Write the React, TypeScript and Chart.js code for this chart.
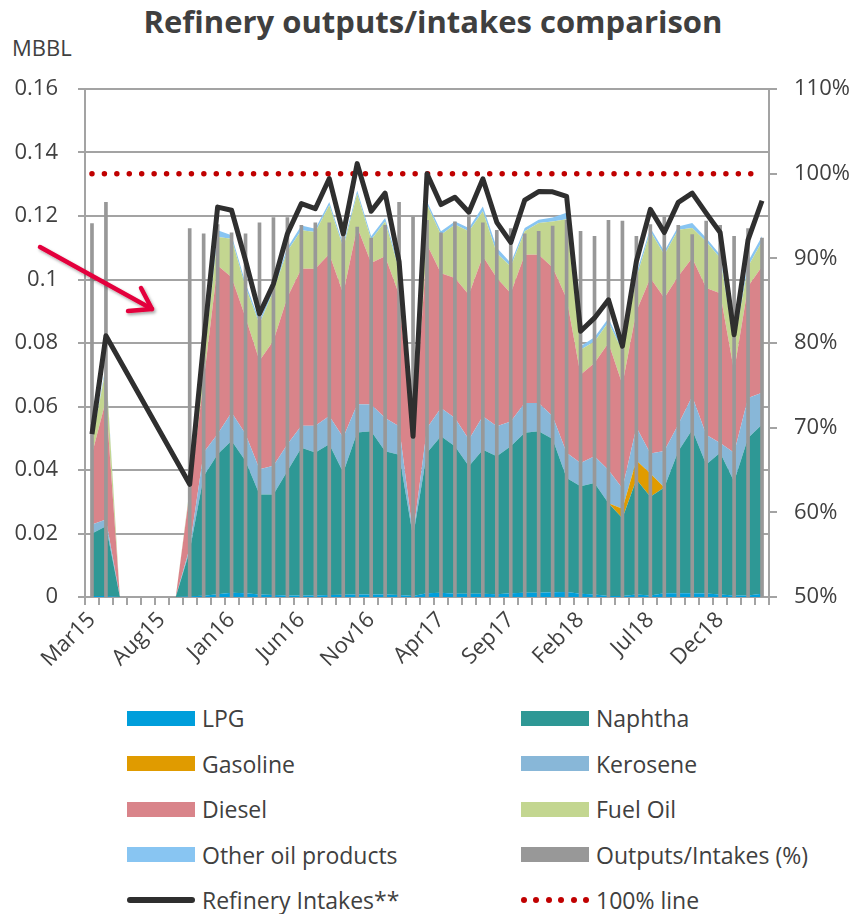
import React, { useEffect, useRef } from 'react';
import { Chart, registerables } from 'chart.js';

Chart.register(...registerables);

const months = [
  'Mar15','Apr15','May15','Jun15','Jul15','Aug15','Sep15','Oct15','Nov15','Dec15',
  'Jan16','Feb16','Mar16','Apr16','May16','Jun16','Jul16','Aug16','Sep16','Oct16','Nov16','Dec16',
  'Jan17','Feb17','Mar17','Apr17','May17','Jun17','Jul17','Aug17','Sep17','Oct17','Nov17','Dec17',
  'Jan18','Feb18','Mar18','Apr18','May18','Jun18','Jul18','Aug18','Sep18','Oct18','Nov18','Dec18',
  'Jan19','Feb19','Mar19',
];

const lpg = [0.0003,0.0003,0,0,0,0,0,0.0002,0.0004,0.0009,0.0013,0.0012,0.0008,0.0006,0.0005,0.0005,0.0005,0.0006,0.0007,0.0008,0.0008,0.0008,0.0006,0.0003,0.0012,0.0013,0.001,0.001,0.001,0.0009,0.0012,0.0013,0.0013,0.0015,0.0016,0.001,0.0008,0.0003,0.0003,0.0008,0.0005,0.0012,0.0012,0.0012,0.0011,0.0008,0.0005,0.0005,0.001];
const naphtha = [0.0197,0.022,0,0,0,0,0,0.0143,0.0376,0.0441,0.0479,0.0416,0.0315,0.0317,0.0392,0.0465,0.045,0.0475,0.0385,0.051,0.0514,0.0451,0.0442,0.0187,0.0442,0.0493,0.0465,0.0402,0.0454,0.0434,0.0463,0.0504,0.0509,0.0483,0.0359,0.0339,0.0351,0.0292,0.0245,0.0362,0.0311,0.0333,0.0447,0.0515,0.0406,0.0446,0.0359,0.0496,0.0533];
const gasoline = [0,0,0,0,0,0,0,0,0,0,0,0,0,0,0,0,0,0,0,0,0,0,0,0,0,0,0,0,0,0,0,0,0,0,0,0,0,0,0.003,0.006,0.0073,0,0,0,0,0,0,0,0];
const kerosene = [0.0028,0.0021,0,0,0,0,0,0.001,0.0075,0.0063,0.0089,0.0085,0.0079,0.009,0.0084,0.0069,0.0084,0.0089,0.011,0.0089,0.0084,0.0105,0.009,0.0005,0.0078,0.0089,0.0089,0.0084,0.0105,0.0095,0.0078,0.0094,0.0089,0.0071,0.0079,0.0073,0.0084,0.0105,0.0064,0.0105,0.0063,0.0115,0.0084,0.0105,0.0094,0.0031,0.009,0.0126,0.01];
const diesel = [0.0222,0.0376,0,0,0,0,0,0.0175,0.0225,0.0531,0.0426,0.0367,0.0342,0.0394,0.0463,0.0495,0.0495,0.051,0.0453,0.0558,0.0446,0.0509,0.0414,0.0275,0.0578,0.0425,0.0441,0.0456,0.0504,0.0467,0.0404,0.0467,0.0467,0.0469,0.0486,0.0278,0.0294,0.04,0.0327,0.0365,0.0553,0.0482,0.0467,0.0436,0.0462,0.0472,0.0257,0.0351,0.0398];
const fuelOil = [0.004,0.01,0,0,0,0,0,0.001,0.006,0.009,0.0121,0.0096,0.0116,0.0158,0.0146,0.0121,0.0116,0.0154,0.0145,0.0105,0.0073,0.011,0.0078,0.001,0.0126,0.0121,0.0168,0.02,0.0142,0.0078,0.0084,0.0074,0.01,0.0145,0.025,0.0079,0.0068,0.0065,0.0106,0.0105,0.0147,0.0136,0.0147,0.0094,0.0147,0.0111,0.0084,0.0063,0.0079];
const otherProducts = [0.0005,0.001,0,0,0,0,0,0.0002,0.0005,0.0021,0.0011,0.0012,0.001,0.0011,0.001,0.0015,0.001,0.001,0.001,0.001,0.0011,0.0011,0.001,0.0002,0.001,0.0011,0.001,0.001,0.0015,0.0017,0.0011,0.001,0.001,0.0012,0.002,0.0011,0.0013,0.0013,0.001,0.0015,0.001,0.0011,0.001,0.0016,0.0011,0.001,0.001,0.0016,0.0016];
const outputsIntakesPct = [94.1,96.6,null,null,null,null,null,93.5,92.9,94.0,93.0,92.9,94.2,94.8,94.8,93.9,94.2,94.2,94.0,93.7,92.4,93.9,96.6,94.9,94.5,93.0,94.3,95.1,94.2,93.3,93.5,92.9,93.2,93.8,94.5,93.2,92.6,94.5,94.4,92.6,94.0,94.9,93.9,92.8,94.4,93.9,92.6,93.5,92.4];
const refineryIntakes = [0.0513,0.0823,null,null,null,null,null,0.0355,0.08,0.1228,0.1218,0.106,0.0892,0.0986,0.1144,0.1239,0.1223,0.1318,0.1144,0.1365,0.1215,0.1272,0.1057,0.0506,0.1333,0.1236,0.1259,0.1212,0.1317,0.118,0.1117,0.125,0.1277,0.1276,0.1262,0.0837,0.0879,0.0936,0.079,0.1057,0.1221,0.1148,0.1243,0.1272,0.1209,0.1148,0.0826,0.1125,0.1248];
const HUNDRED_PCT = 100;

const yTicks = [0, 0.02, 0.04, 0.06, 0.08, 0.1, 0.12, 0.14, 0.16];
const y1Ticks = [50, 60, 70, 80, 90, 100, 110];

const areaSeries = [
  { name: 'LPG', data: lpg, color: '#009EDB' },
  { name: 'Naphtha', data: naphtha, color: '#2E9895' },
  { name: 'Gasoline', data: gasoline, color: '#E09B00' },
  { name: 'Kerosene', data: kerosene, color: '#88B7D8' },
  { name: 'Diesel', data: diesel, color: '#D9848A' },
  { name: 'Fuel Oil', data: fuelOil, color: '#C3D690' },
  { name: 'Other oil products', data: otherProducts, color: '#88C5F2' },
];
const BAR_NAME = 'Outputs/Intakes (%)';
const BAR_COLOR = '#989898';
const LINE_NAME = 'Refinery Intakes**';
const LINE_COLOR = '#2F2F2F';
const DOT_NAME = '100% line';
const DOT_COLOR = '#C00000';

const FONT = '"Open Sans", Lato, sans-serif';
const TEXT = '#404040';
const GRID = '#A3A3A3';

type LegendKind = 'area' | 'line' | 'dots';
const legendItems: { name: string; color: string; kind: LegendKind }[] = [
  ...areaSeries.map((s) => ({ name: s.name, color: s.color, kind: 'area' as LegendKind })),
  { name: BAR_NAME, color: BAR_COLOR, kind: 'area' },
  { name: LINE_NAME, color: LINE_COLOR, kind: 'line' },
  { name: DOT_NAME, color: DOT_COLOR, kind: 'dots' },
];

function Swatch({ color, kind }: { color: string; kind: LegendKind }) {
  if (kind === 'line') {
    return <div style={{ width: 68, height: 6, borderRadius: 3, background: color }} />;
  }
  if (kind === 'dots') {
    return (
      <div style={{ width: 68, height: 6, display: 'flex', justifyContent: 'space-between' }}>
        {[0, 1, 2, 3, 4, 5].map((k) => (
          <div key={k} style={{ width: 6, height: 6, borderRadius: 3, background: color }} />
        ))}
      </div>
    );
  }
  return <div style={{ width: 68, height: 15, background: color }} />;
}

export default function App() {
  const canvasRef = useRef<HTMLCanvasElement | null>(null);

  useEffect(() => {
    document.body.style.margin = '0';
    const canvas = canvasRef.current;
    if (!canvas) return;

    const tickFont = { family: FONT, size: 22 };

    const datasets: any[] = [
      ...areaSeries.map((s, i) => ({
        type: 'line',
        label: s.name,
        data: s.data,
        yAxisID: 'y',
        backgroundColor: s.color,
        borderColor: 'transparent',
        borderWidth: 0,
        pointRadius: 0,
        tension: 0,
        fill: i === 0 ? 'origin' : '-1',
        order: 5,
      })),
      {
        type: 'bar',
        label: BAR_NAME,
        data: outputsIntakesPct,
        yAxisID: 'y1',
        backgroundColor: BAR_COLOR,
        barThickness: 3,
        order: 2,
      },
      {
        type: 'line',
        label: LINE_NAME,
        data: refineryIntakes,
        yAxisID: 'y',
        stack: 'intakes',
        borderColor: LINE_COLOR,
        borderWidth: 5,
        borderJoinStyle: 'round',
        pointRadius: 0,
        tension: 0,
        fill: false,
        spanGaps: true,
        order: 0,
      },
      {
        type: 'line',
        label: DOT_NAME,
        data: months.map(() => HUNDRED_PCT),
        yAxisID: 'y1',
        borderColor: DOT_COLOR,
        borderWidth: 5.5,
        borderDash: [0, 12.43],
        borderCapStyle: 'round',
        pointRadius: 0,
        fill: false,
        order: 1,
      },
    ];

    const chart = new Chart(canvas, {
      type: 'line',
      data: { labels: months, datasets },
      options: {
        animation: false,
        responsive: false,
        maintainAspectRatio: false,
        layout: { padding: { top: 89, left: 0, right: 0, bottom: 0 } },
        plugins: { legend: { display: false }, title: { display: false }, tooltip: { enabled: false } },
        scales: {
          x: {
            type: 'category',
            offset: true,
            grid: { offset: true, drawOnChartArea: false, drawTicks: true, tickLength: 8, color: GRID, lineWidth: 2 },
            border: { color: GRID, width: 2 },
            ticks: {
              autoSkip: false,
              maxRotation: 45,
              minRotation: 45,
              padding: 2,
              color: TEXT,
              font: tickFont,
              callback: (_v: any, idx: number) => (idx % 5 === 0 ? months[idx] : ''),
            },
            afterFit: (s: any) => { s.height = 93; },
          },
          y: {
            type: 'linear',
            position: 'left',
            stacked: true,
            min: yTicks[0],
            max: yTicks[yTicks.length - 1],
            afterBuildTicks: (s: any) => { s.ticks = yTicks.map((v) => ({ value: v })); },
            ticks: {
              color: TEXT,
              font: tickFont,
              padding: 20,
              callback: (v: any) => String(+Number(v).toFixed(2)),
            },
            grid: { color: GRID, lineWidth: 2, tickLength: 7 },
            border: { color: GRID, width: 2 },
            afterFit: (s: any) => { s.width = 85; },
          },
          y1: {
            type: 'linear',
            position: 'right',
            min: y1Ticks[0],
            max: y1Ticks[y1Ticks.length - 1],
            afterBuildTicks: (s: any) => { s.ticks = y1Ticks.map((v) => ({ value: v })); },
            ticks: {
              color: TEXT,
              font: tickFont,
              padding: 17,
              callback: (v: any) => `${v}%`,
            },
            grid: { drawOnChartArea: false, color: GRID, lineWidth: 2, tickLength: 8 },
            border: { color: GRID, width: 2 },
            afterFit: (s: any) => { s.width = 87; },
          },
        },
      } as any,
    });

    return () => chart.destroy();
  }, []);

  return (
    <div style={{ position: 'relative', width: 856, height: 914, background: '#fff', fontFamily: FONT, color: TEXT }}>
      <div
        style={{
          position: 'absolute', left: 0, top: 0, width: 866, textAlign: 'center',
          fontWeight: 700, fontSize: 31, lineHeight: '42px', color: '#3F3F3F',
        }}
      >
        Refinery outputs/intakes comparison
      </div>
      <div style={{ position: 'absolute', left: 12, top: 32, fontSize: 22, lineHeight: '30px' }}>MBBL</div>
      <canvas ref={canvasRef} width={856} height={690} style={{ position: 'absolute', left: 0, top: 0, width: 856, height: 690 }} />
      <svg width={856} height={690} style={{ position: 'absolute', left: 0, top: 0, pointerEvents: 'none' }}>
        <defs>
          <filter id="sh" x="-20%" y="-20%" width="140%" height="140%">
            <feDropShadow dx="1.5" dy="2" stdDeviation="1.5" floodColor="#000" floodOpacity="0.35" />
          </filter>
        </defs>
        <g stroke="#E3063C" strokeWidth={4.5} strokeLinecap="round" strokeLinejoin="round" fill="none" filter="url(#sh)">
          <line x1={40} y1={247} x2={152} y2={309} />
          <polyline points="141,288 152,309 128,311" />
        </g>
      </svg>
      {legendItems.map((it, i) => {
        const col = i % 2;
        const row = Math.floor(i / 2);
        return (
          <div
            key={it.name}
            style={{
              position: 'absolute', left: col === 0 ? 127 : 521, top: 696 + row * 45.5, height: 44,
              display: 'flex', alignItems: 'center', fontSize: 23, whiteSpace: 'nowrap',
            }}
          >
            <Swatch color={it.color} kind={it.kind} />
            <span style={{ marginLeft: 7 }}>{it.name}</span>
          </div>
        );
      })}
    </div>
  );
}
